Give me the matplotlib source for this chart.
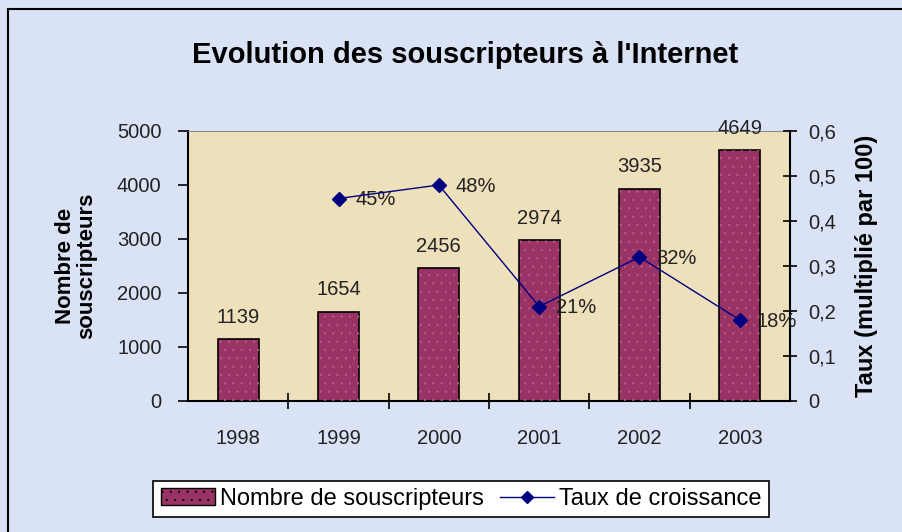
import matplotlib
matplotlib.use('Agg')
import matplotlib.pyplot as plt
from matplotlib.patches import Rectangle
from matplotlib.ticker import MultipleLocator, FuncFormatter

annees = ['1998', '1999', '2000', '2001', '2002', '2003']
souscripteurs = [1139, 1654, 2456, 2974, 3935, 4649]
annees_taux = ['1999', '2000', '2001', '2002', '2003']
taux = [0.45, 0.48, 0.21, 0.32, 0.18]
taux_labels = ['45%', '48%', '21%', '32%', '18%']

plt.rcParams['font.family'] = ['Liberation Sans', 'DejaVu Sans']
plt.rcParams['hatch.linewidth'] = 0.35

fond = '#d9e3f5'
fond_trace = '#efe0bc'
bordeaux = '#993366'
marine = '#000080'

fig = plt.figure(figsize=(9.03, 5.32), dpi=100)
fig.set_facecolor(fond)
# cadre noir du graphique
fig.patches.append(Rectangle((8 / 903, -0.05), 1.1, 1 - 9 / 532 + 0.05,
                             transform=fig.transFigure, fill=False,
                             edgecolor='k', linewidth=1.5))

ax1 = fig.add_axes([188 / 903, 1 - 401 / 532, 602 / 903, 270 / 532])
ax1.set_facecolor(fond_trace)
x = list(range(len(annees)))
ax1.bar(x, souscripteurs, width=0.41, color=bordeaux, edgecolor='k',
        linewidth=1.2, zorder=2)
# motif pointillé des barres
ax1.bar(x, souscripteurs, width=0.41, fill=False, hatch='..',
        edgecolor='#b86088', linewidth=0, zorder=3)
for xi, v in zip(x, souscripteurs):
    ax1.text(xi, v + 230, str(v), ha='center', va='bottom', fontsize=14.5,
             color='#222222', clip_on=False)

ax1.set_xlim(-0.5, len(annees) - 0.5)
ax1.set_ylim(0, 5000)
ax1.yaxis.set_major_locator(MultipleLocator(1000))
ax1.set_xticks([i - 0.5 for i in range(1, len(annees))], minor=False)
ax1.set_xticks(x, minor=True)
ax1.set_xticklabels([])
ax1.set_xticklabels(annees, minor=True)
ax1.tick_params(axis='x', which='major', direction='inout', length=12,
                width=1.2)
ax1.tick_params(axis='x', which='minor', length=0, pad=20, labelsize=14.5,
                labelcolor='#222222')
ax1.tick_params(axis='y', direction='out', length=7, width=1.2, pad=12,
                labelsize=14.5, labelcolor='#222222')
for s in ['left', 'bottom']:
    ax1.spines[s].set_linewidth(1.5)
ax1.spines['top'].set_linewidth(0.6)
ax1.spines['top'].set_color('#777777')
ax1.spines['right'].set_visible(False)
ax1.set_ylabel('Nombre de\nsouscripteurs', fontsize=16, fontweight='bold',
               labelpad=14, linespacing=1.05)

ax2 = ax1.twinx()
xt = [annees.index(a) for a in annees_taux]
ax2.plot(xt, taux, color=marine, linewidth=1, marker='D', markersize=7,
         zorder=4)
for xi, t, lab in zip(xt, taux, taux_labels):
    ax2.text(xi + 0.17, t - 0.003, lab, ha='left', va='center',
             fontsize=14.5, color='#222222', clip_on=False)
ax2.set_ylim(0, 0.6)
ax2.yaxis.set_major_locator(MultipleLocator(0.1))
ax2.yaxis.set_major_formatter(
    FuncFormatter(lambda v, p: ('%g' % round(v, 1)).replace('.', ',')))
ax2.tick_params(axis='y', direction='inout', length=10, width=1.2, pad=8,
                labelsize=14.5, labelcolor='#222222')
ax2.spines['right'].set_linewidth(1.5)
for s in ['left', 'top', 'bottom']:
    ax2.spines[s].set_visible(False)
ax2.set_ylabel('Taux (multiplié par 100)', fontsize=17, fontweight='bold',
               labelpad=14)
ax2.patch.set_visible(False)
ax1.set_zorder(1)
ax2.set_zorder(2)

fig.text(465 / 903, 1 - 55 / 532, "Evolution des souscripteurs à l'Internet",
         ha='center', va='center', fontsize=21, fontweight='bold')

h1 = Rectangle((0, 0), 1, 1, facecolor=bordeaux, edgecolor='k', hatch='..')
h2, = ax2.plot([], [], color=marine, linewidth=1, marker='D', markersize=6)
leg = fig.legend([h1, h2], ['Nombre de souscripteurs', 'Taux de croissance'],
                 loc='center', bbox_to_anchor=(461 / 903, 1 - 499 / 532),
                 ncol=2, fontsize=17, frameon=True, fancybox=False,
                 edgecolor='k', facecolor='white', framealpha=1,
                 handlelength=2.3, handletextpad=0.2, columnspacing=0.7,
                 borderpad=0.3)
leg.get_frame().set_linewidth(1.2)

fig.savefig('out.png', dpi=100, facecolor=fond)
